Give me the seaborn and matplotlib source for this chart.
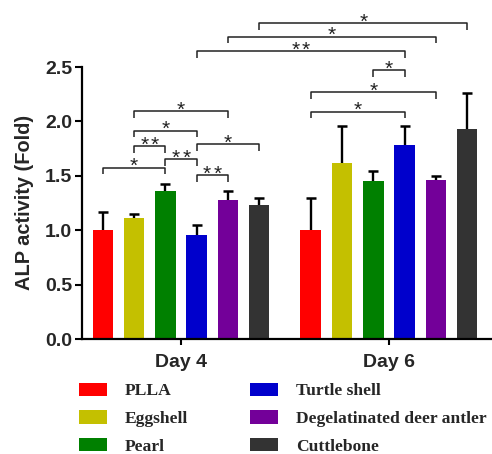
import matplotlib
matplotlib.use("Agg")
import matplotlib.pyplot as plt
import matplotlib.patches as mpatches
import seaborn as sns
import pandas as pd
import numpy as np

# ---- data ----
days = ["Day 4", "Day 6"]
materials = ["PLLA", "Eggshell", "Pearl", "Turtle shell",
             "Degelatinated deer antler", "Cuttlebone"]
day4_mean = [1.00, 1.11, 1.36, 0.96, 1.28, 1.23]
day4_err = [0.17, 0.04, 0.065, 0.085, 0.085, 0.07]
day6_mean = [1.00, 1.615, 1.455, 1.785, 1.46, 1.93]
day6_err = [0.30, 0.345, 0.092, 0.17, 0.037, 0.33]
colors = ["#FF0000", "#C4C000", "#008000", "#0000CC", "#730099", "#333333"]
y_ticks = [0.0, 0.5, 1.0, 1.5, 2.0, 2.5]
# significance brackets: (day_a, material_a, day_b, material_b, height, label)
brackets = [
    ("Day 4", "PLLA", "Day 4", "Pearl", 1.575, "*"),
    ("Day 4", "Eggshell", "Day 4", "Pearl", 1.77, "**"),
    ("Day 4", "Eggshell", "Day 4", "Turtle shell", 1.915, "*"),
    ("Day 4", "Eggshell", "Day 4", "Degelatinated deer antler", 2.095, "*"),
    ("Day 4", "Pearl", "Day 4", "Turtle shell", 1.655, "**"),
    ("Day 4", "Turtle shell", "Day 4", "Degelatinated deer antler", 1.505, "**"),
    ("Day 4", "Turtle shell", "Day 4", "Cuttlebone", 1.79, "*"),
    ("Day 4", "Turtle shell", "Day 6", "Turtle shell", 2.645, "**"),
    ("Day 4", "Degelatinated deer antler", "Day 6", "Degelatinated deer antler", 2.78, "*"),
    ("Day 4", "Cuttlebone", "Day 6", "Cuttlebone", 2.905, "*"),
    ("Day 6", "Pearl", "Day 6", "Turtle shell", 2.47, "*"),
    ("Day 6", "PLLA", "Day 6", "Degelatinated deer antler", 2.27, "*"),
    ("Day 6", "PLLA", "Day 6", "Turtle shell", 2.09, "*"),
]

df = pd.DataFrame({
    "day": [d for d in days for _ in materials],
    "material": materials * 2,
    "value": day4_mean + day6_mean,
    "err": day4_err + day6_err,
})

sns.set_style("ticks")
plt.rcParams["font.family"] = ["Liberation Sans", "DejaVu Sans"]

fig = plt.figure(figsize=(4.92, 4.54), dpi=100)
ax = fig.add_axes([0.1667, 0.2533, 0.833, 0.599])

sns.barplot(data=df, x="day", y="value", hue="material", order=days,
            hue_order=materials, palette=colors, width=0.903, gap=0.345,
            linewidth=0, errorbar=None, legend=False, ax=ax, saturation=1)

# map bars to (day, material) via geometry
centers = {}
for p in ax.patches:
    cx = p.get_x() + p.get_width() / 2
    day = days[int(round(cx))]
    idx = int(round((cx - round(cx)) / (0.903 / 6) + 2.5))
    centers[(day, materials[idx])] = (cx, p.get_height())

# upper-only error bars
for _, r in df.iterrows():
    cx, h = centers[(r["day"], r["material"])]
    top = r["value"] + r["err"]
    ax.plot([cx, cx], [r["value"], top], color="black", lw=1.7,
            solid_capstyle="butt", zorder=3)
    ax.plot([cx], [top], marker="_", markersize=7, mew=1.8, color="black",
            zorder=3)

leg = 0.06
for da, ma, db, mb, h, lab in brackets:
    x1 = centers[(da, ma)][0]
    x2 = centers[(db, mb)][0]
    ax.plot([x1, x1, x2, x2], [h - leg, h, h, h - leg], color="#222222",
            lw=1.1, clip_on=False, solid_capstyle="butt")
    n = len(lab)
    for k in range(n):
        ax.annotate("*", xy=((x1 + x2) / 2, h),
                    xytext=((k - (n - 1) / 2) * 7.7, -3.2),
                    textcoords="offset points", ha="center", va="baseline",
                    fontsize=15, color="#222222", annotation_clip=False)

ax.set_xlim(-0.476, 1.495)
ax.set_ylim(0, 2.5)
ax.set_yticks(y_ticks)
ax.set_yticklabels([f"{t:.1f}" for t in y_ticks], fontsize=14, fontweight="bold")
ax.set_xticks([0, 1])
ax.set_xticklabels(days, fontsize=14, fontweight="bold")
ax.set_xlabel("")
ax.set_ylabel("ALP activity (Fold)", fontsize=14.4, fontweight="bold")
ax.yaxis.set_label_coords(-0.117, 0.502)
ax.tick_params(axis="y", length=5, width=1.5, pad=2, color="black")
ax.tick_params(axis="x", length=4.5, width=1.5, pad=6, color="black")
for s in ["top", "right"]:
    ax.spines[s].set_visible(False)
for s in ["left", "bottom"]:
    ax.spines[s].set_linewidth(1.6)
    ax.spines[s].set_color("black")

handles = [mpatches.Patch(facecolor=c, edgecolor="none", label=m)
           for c, m in zip(colors, materials)]
fig.legend(handles=handles, loc="upper left", bbox_to_anchor=(0.160, 0.157),
           ncol=2, frameon=False, borderpad=0, borderaxespad=0,
           handlelength=1.6, handleheight=0.8, handletextpad=1.05,
           columnspacing=3.5, labelspacing=0.62,
           prop={"family": ["Liberation Serif"], "weight": "bold", "size": 12.6})

fig.savefig("out.png", dpi=100)
